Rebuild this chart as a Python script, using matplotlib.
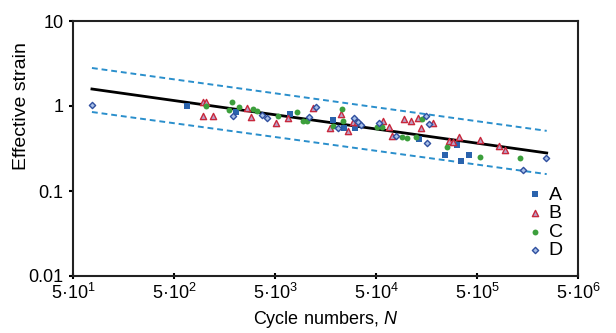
import matplotlib
matplotlib.use('Agg')
import matplotlib.pyplot as plt

plt.rcParams['font.family'] = ['Liberation Sans', 'DejaVu Sans']
plt.rcParams['mathtext.fontset'] = 'custom'
plt.rcParams['mathtext.rm'] = 'Liberation Sans'
plt.rcParams['mathtext.it'] = 'Liberation Sans:italic'

# series A (squares)
a_n = [672, 2056, 7044, 18755, 24100, 30975, 133350, 316950, 240950, 347500, 416850]
a_e = [1.0, 0.85, 0.805, 0.684, 0.551, 0.551, 0.409, 0.348, 0.265, 0.225, 0.265]

# series B (triangles)
b_n = [970, 1040, 970, 1216, 2640, 2890, 5116, 6727, 11893, 17525, 22500, 26400,
       29580, 32430, 58600, 67250, 71950, 94600, 111150, 130300, 139650, 183200,
       264200, 289050, 331850, 535750, 826000, 946000]
b_e = [1.115, 1.115, 0.763, 0.763, 0.947, 0.742, 0.631, 0.723, 0.947, 0.551, 0.805, 0.508,
       0.648, 0.648, 0.666, 0.566, 0.444, 0.703, 0.666, 0.723, 0.551, 0.631,
       0.387, 0.377, 0.432, 0.398, 0.338, 0.304]

# series C (circles)
c_n = [1040, 1875, 2200, 1753, 3027, 3316, 5358, 8257, 9467, 10375, 18755, 23025,
       23550, 51150, 57300, 90350, 101400, 124450, 142550, 252350, 535750, 1333500]
c_e = [1.0, 1.115, 0.973, 0.897, 0.922, 0.873, 0.763, 0.85, 0.666, 0.666, 0.582, 0.922,
       0.666, 0.566, 0.566, 0.432, 0.42, 0.432, 0.703, 0.329, 0.251, 0.245]

# series D (diamonds)
d_n = [77, 1920, 3716, 4167, 10860, 12742, 21036, 30270, 33185, 35490, 53550,
       78850, 156300, 167500, 159950, 1425500, 2409500]
d_e = [1.03, 0.763, 0.784, 0.723, 0.742, 0.973, 0.551, 0.723, 0.648, 0.598, 0.631,
       0.444, 0.763, 0.614, 0.367, 0.177, 0.245]

# fit line and scatter band
fit_n = [77, 2450000]
fit_e = [1.585, 0.28]
upper_e = [2.8, 0.51]
lower_e = [0.85, 0.158]

xticks = [5e1, 5e2, 5e3, 5e4, 5e5, 5e6]
xticklabels = ['5·10$^{1}$', '5·10$^{2}$', '5·10$^{3}$', '5·10$^{4}$', '5·10$^{5}$', '5·10$^{6}$']
yticks = [0.01, 0.1, 1, 10]
yticklabels = ['0.01', '0.1', '1', '10']

fig = plt.figure(figsize=(6.16, 3.33), dpi=100)
ax = fig.add_axes([73 / 616, 57 / 333, 505 / 616, 255 / 333])

ax.plot(fit_n, upper_e, color='#2a8fcc', lw=1.4, dashes=(3, 2))
ax.plot(fit_n, lower_e, color='#2a8fcc', lw=1.4, dashes=(3, 2))
ax.plot(fit_n, fit_e, color='black', lw=2)

ax.scatter(a_n, a_e, marker='s', s=16, color='#2a63ad', lw=0, label='A', zorder=3)
ax.scatter(b_n, b_e, marker='^', s=20, facecolor='#b9a2c8', edgecolor='#c8283c', lw=1.0, label='B', zorder=3)
ax.scatter(c_n, c_e, marker='o', s=18, color='#3c9f3c', lw=0, label='C', zorder=3)
ax.scatter(d_n, d_e, marker='D', s=10, facecolor='#a8c0e8', edgecolor='#2f4f9f', lw=1.0, label='D', zorder=3)

ax.set_xscale('log')
ax.set_yscale('log')
ax.set_xlim(5e1, 5e6)
ax.set_ylim(0.01, 10)
ax.set_xticks(xticks)
ax.set_xticklabels(xticklabels)
ax.set_yticks(yticks)
ax.set_yticklabels(yticklabels)
ax.minorticks_off()
ax.tick_params(axis='x', direction='inout', length=4, width=1.5, labelsize=13, pad=3)
ax.tick_params(axis='y', direction='out', length=3, width=1.5, labelsize=13, pad=4)
for s in ax.spines.values():
    s.set_linewidth(1.5)
    s.set_color('#222222')

ax.set_xlabel('Cycle numbers, $N$', fontsize=13, labelpad=4)
ax.set_ylabel('Effective strain', fontsize=14)
ax.yaxis.set_label_coords(-0.085, 0.667)

ax.legend(loc='lower right', bbox_to_anchor=(0.985, 0.035), frameon=False, fontsize=14,
          handletextpad=0.3, labelspacing=0.05, handlelength=0.8, borderaxespad=0,
          markerscale=1.0)

plt.savefig('out.png', dpi=100)
